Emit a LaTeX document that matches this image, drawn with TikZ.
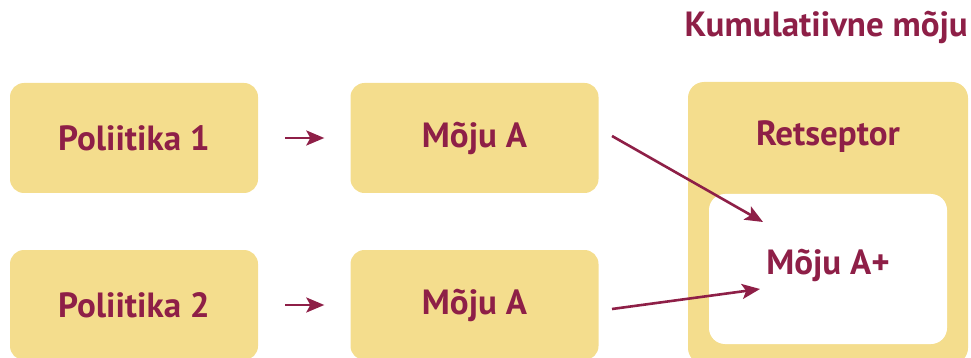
\documentclass[tikz,border=0pt]{standalone}
\usepackage{fontspec}
\setmainfont{PT Sans}
\usetikzlibrary{arrows.meta}
\definecolor{ylw}{HTML}{F4DD8D}
\definecolor{mar}{HTML}{8E1F47}
\begin{document}
\begin{tikzpicture}[x=1pt,y=-1pt,
  box/.style={fill=ylw,rounded corners=14pt,minimum width=248pt,minimum height=110pt,inner sep=0pt,
    text=mar,font=\fontsize{35}{40}\selectfont\bfseries},
  arr/.style={draw=mar,line width=2.6pt,-{Stealth[length=18pt,width=15pt,inset=4pt]}},
  lbl/.style={text=mar,font=\fontsize{35}{40}\selectfont\bfseries,inner sep=0pt}]
\useasboundingbox (0,0) rectangle (971,358);
\node[box] (p1) at (134,138) {Poliitika 1};
\node[box] (m1) at (474.5,138) {Mõju A};
\node[box] (p2) at (134,305) {Poliitika 2};
\node[box] (m2) at (474.5,305) {Mõju A};
\node[fill=ylw,rounded corners=16pt,minimum width=280pt,minimum height=282pt,inner sep=0pt] (rc) at (828,223) {};
\node[fill=white,rounded corners=16pt,minimum width=238pt,minimum height=150pt,inner sep=0pt] (in) at (828,269) {};
\node[lbl] (rt) at (828,137) {Retseptor};
\node[lbl] (ma) at (828,265) {Mõju A+};
\node[lbl,anchor=east] (km) at (968,27) {Kumulatiivne mõju};
\draw[arr,shorten <=27pt,shorten >=26pt] (p1.east) -- (m1.west);
\draw[arr,shorten <=27pt,shorten >=26pt] (p2.east) -- (m2.west);
\coordinate (s1) at (612,136);
\coordinate (e1) at (763,222);
\coordinate (s2) at (612,309);
\coordinate (e2) at (760,289);
\draw[arr] (s1) -- (e1);
\draw[arr] (s2) -- (e2);
\end{tikzpicture}
\end{document}
